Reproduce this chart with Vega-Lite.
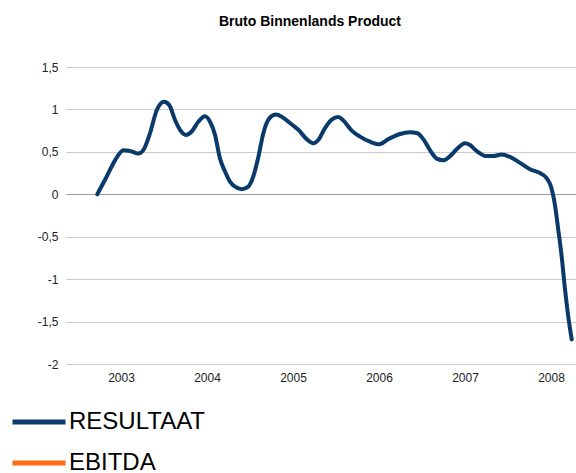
{
  "$schema": "https://vega.github.io/schema/vega-lite/v6.json",
  "autosize": {"type": "none"},
  "padding": {"left": 66, "top": 67, "right": 0, "bottom": 109},
  "width": 510,
  "height": 297,
  "background": "white",
  "config": {
    "font": "Liberation Sans",
    "view": {"stroke": null}
  },
  "title": {
    "text": "Bruto Binnenlands Product",
    "font": "Liberation Sans",
    "fontSize": 14,
    "fontWeight": "bold",
    "color": "#000000",
    "anchor": "middle",
    "dx": -11,
    "offset": 32
  },
  "data": {
    "values": [
      {"t": 2002.724, "v": 0, "series": "RESULTAAT"},
      {"t": 2002.834, "v": 0.21, "series": "RESULTAAT"},
      {"t": 2002.930, "v": 0.40, "series": "RESULTAAT"},
      {"t": 2003.027, "v": 0.52, "series": "RESULTAAT"},
      {"t": 2003.105, "v": 0.51, "series": "RESULTAAT"},
      {"t": 2003.201, "v": 0.48, "series": "RESULTAAT"},
      {"t": 2003.259, "v": 0.52, "series": "RESULTAAT"},
      {"t": 2003.337, "v": 0.72, "series": "RESULTAAT"},
      {"t": 2003.415, "v": 0.99, "series": "RESULTAAT"},
      {"t": 2003.500, "v": 1.09, "series": "RESULTAAT"},
      {"t": 2003.562, "v": 1.05, "series": "RESULTAAT"},
      {"t": 2003.628, "v": 0.875, "series": "RESULTAAT"},
      {"t": 2003.686, "v": 0.76, "series": "RESULTAAT"},
      {"t": 2003.756, "v": 0.70, "series": "RESULTAAT"},
      {"t": 2003.822, "v": 0.74, "series": "RESULTAAT"},
      {"t": 2003.899, "v": 0.855, "series": "RESULTAAT"},
      {"t": 2003.977, "v": 0.92, "series": "RESULTAAT"},
      {"t": 2004.035, "v": 0.855, "series": "RESULTAAT"},
      {"t": 2004.093, "v": 0.70, "series": "RESULTAAT"},
      {"t": 2004.151, "v": 0.42, "series": "RESULTAAT"},
      {"t": 2004.209, "v": 0.27, "series": "RESULTAAT"},
      {"t": 2004.267, "v": 0.15, "series": "RESULTAAT"},
      {"t": 2004.326, "v": 0.09, "series": "RESULTAAT"},
      {"t": 2004.403, "v": 0.06, "series": "RESULTAAT"},
      {"t": 2004.480, "v": 0.09, "series": "RESULTAAT"},
      {"t": 2004.538, "v": 0.21, "series": "RESULTAAT"},
      {"t": 2004.597, "v": 0.44, "series": "RESULTAAT"},
      {"t": 2004.655, "v": 0.72, "series": "RESULTAAT"},
      {"t": 2004.724, "v": 0.895, "series": "RESULTAAT"},
      {"t": 2004.802, "v": 0.94, "series": "RESULTAAT"},
      {"t": 2004.869, "v": 0.915, "series": "RESULTAAT"},
      {"t": 2004.965, "v": 0.84, "series": "RESULTAAT"},
      {"t": 2005.062, "v": 0.76, "series": "RESULTAAT"},
      {"t": 2005.159, "v": 0.65, "series": "RESULTAAT"},
      {"t": 2005.236, "v": 0.60, "series": "RESULTAAT"},
      {"t": 2005.294, "v": 0.64, "series": "RESULTAAT"},
      {"t": 2005.372, "v": 0.78, "series": "RESULTAAT"},
      {"t": 2005.450, "v": 0.88, "series": "RESULTAAT"},
      {"t": 2005.527, "v": 0.91, "series": "RESULTAAT"},
      {"t": 2005.585, "v": 0.87, "series": "RESULTAAT"},
      {"t": 2005.683, "v": 0.75, "series": "RESULTAAT"},
      {"t": 2005.779, "v": 0.68, "series": "RESULTAAT"},
      {"t": 2005.895, "v": 0.62, "series": "RESULTAAT"},
      {"t": 2006.003, "v": 0.59, "series": "RESULTAAT"},
      {"t": 2006.108, "v": 0.65, "series": "RESULTAAT"},
      {"t": 2006.244, "v": 0.71, "series": "RESULTAAT"},
      {"t": 2006.360, "v": 0.73, "series": "RESULTAAT"},
      {"t": 2006.445, "v": 0.72, "series": "RESULTAAT"},
      {"t": 2006.515, "v": 0.65, "series": "RESULTAAT"},
      {"t": 2006.593, "v": 0.52, "series": "RESULTAAT"},
      {"t": 2006.671, "v": 0.42, "series": "RESULTAAT"},
      {"t": 2006.748, "v": 0.40, "series": "RESULTAAT"},
      {"t": 2006.826, "v": 0.45, "series": "RESULTAAT"},
      {"t": 2006.903, "v": 0.53, "series": "RESULTAAT"},
      {"t": 2007.000, "v": 0.60, "series": "RESULTAAT"},
      {"t": 2007.058, "v": 0.58, "series": "RESULTAAT"},
      {"t": 2007.136, "v": 0.51, "series": "RESULTAAT"},
      {"t": 2007.252, "v": 0.45, "series": "RESULTAAT"},
      {"t": 2007.329, "v": 0.45, "series": "RESULTAAT"},
      {"t": 2007.427, "v": 0.47, "series": "RESULTAAT"},
      {"t": 2007.523, "v": 0.44, "series": "RESULTAAT"},
      {"t": 2007.640, "v": 0.37, "series": "RESULTAAT"},
      {"t": 2007.756, "v": 0.295, "series": "RESULTAAT"},
      {"t": 2007.872, "v": 0.25, "series": "RESULTAAT"},
      {"t": 2007.950, "v": 0.19, "series": "RESULTAAT"},
      {"t": 2008.000, "v": 0.09, "series": "RESULTAAT"},
      {"t": 2008.047, "v": -0.13, "series": "RESULTAAT"},
      {"t": 2008.085, "v": -0.42, "series": "RESULTAAT"},
      {"t": 2008.124, "v": -0.73, "series": "RESULTAAT"},
      {"t": 2008.163, "v": -1.12, "series": "RESULTAAT"},
      {"t": 2008.201, "v": -1.44, "series": "RESULTAAT"},
      {"t": 2008.241, "v": -1.71, "series": "RESULTAAT"}
    ]
  },
  "mark": {"type": "line", "interpolate": "monotone", "strokeWidth": 4, "strokeCap": "round", "strokeJoin": "round", "clip": false},
  "encoding": {
    "x": {
      "field": "t",
      "type": "quantitative",
      "scale": {"domain": [2002.36, 2008.291], "nice": false, "zero": false},
      "axis": {
        "title": null,
        "values": [2003, 2004, 2005, 2006, 2007, 2008],
        "format": "d",
        "grid": false,
        "domain": false,
        "ticks": false,
        "labelPadding": 8,
        "labelFontSize": 12,
        "labelColor": "#222222",
        "labelFont": "Liberation Sans"
      }
    },
    "y": {
      "field": "v",
      "type": "quantitative",
      "scale": {"domain": [-2, 1.5], "nice": false, "zero": false},
      "axis": {
        "title": null,
        "values": [-2, -1.5, -1, -0.5, 0, 0.5, 1, 1.5],
        "labelExpr": "replace(toString(datum.value), '.', ',')",
        "grid": true,
        "gridColor": {"condition": {"test": "datum.value === 0", "value": "#9a9a9a"}, "value": "#cccccc"},
        "gridWidth": 1.2,
        "domain": false,
        "ticks": false,
        "labelPadding": 8,
        "labelFontSize": 12,
        "labelColor": "#222222",
        "labelFont": "Liberation Sans"
      }
    },
    "color": {
      "field": "series",
      "type": "nominal",
      "scale": {"domain": ["RESULTAAT", "EBITDA"], "range": ["#0a3a6a", "#ff6a13"]},
      "legend": {
        "title": null,
        "orient": "none",
        "legendX": -56,
        "legendY": 326,
        "direction": "vertical",
        "symbolType": "stroke",
        "symbolSize": 2809,
        "symbolStrokeWidth": 5,
        "labelFontSize": 24,
        "labelFont": "Liberation Sans",
        "labelColor": "#000000",
        "labelOffset": 1,
        "rowPadding": -13,
        "padding": 0
      }
    }
  }
}
